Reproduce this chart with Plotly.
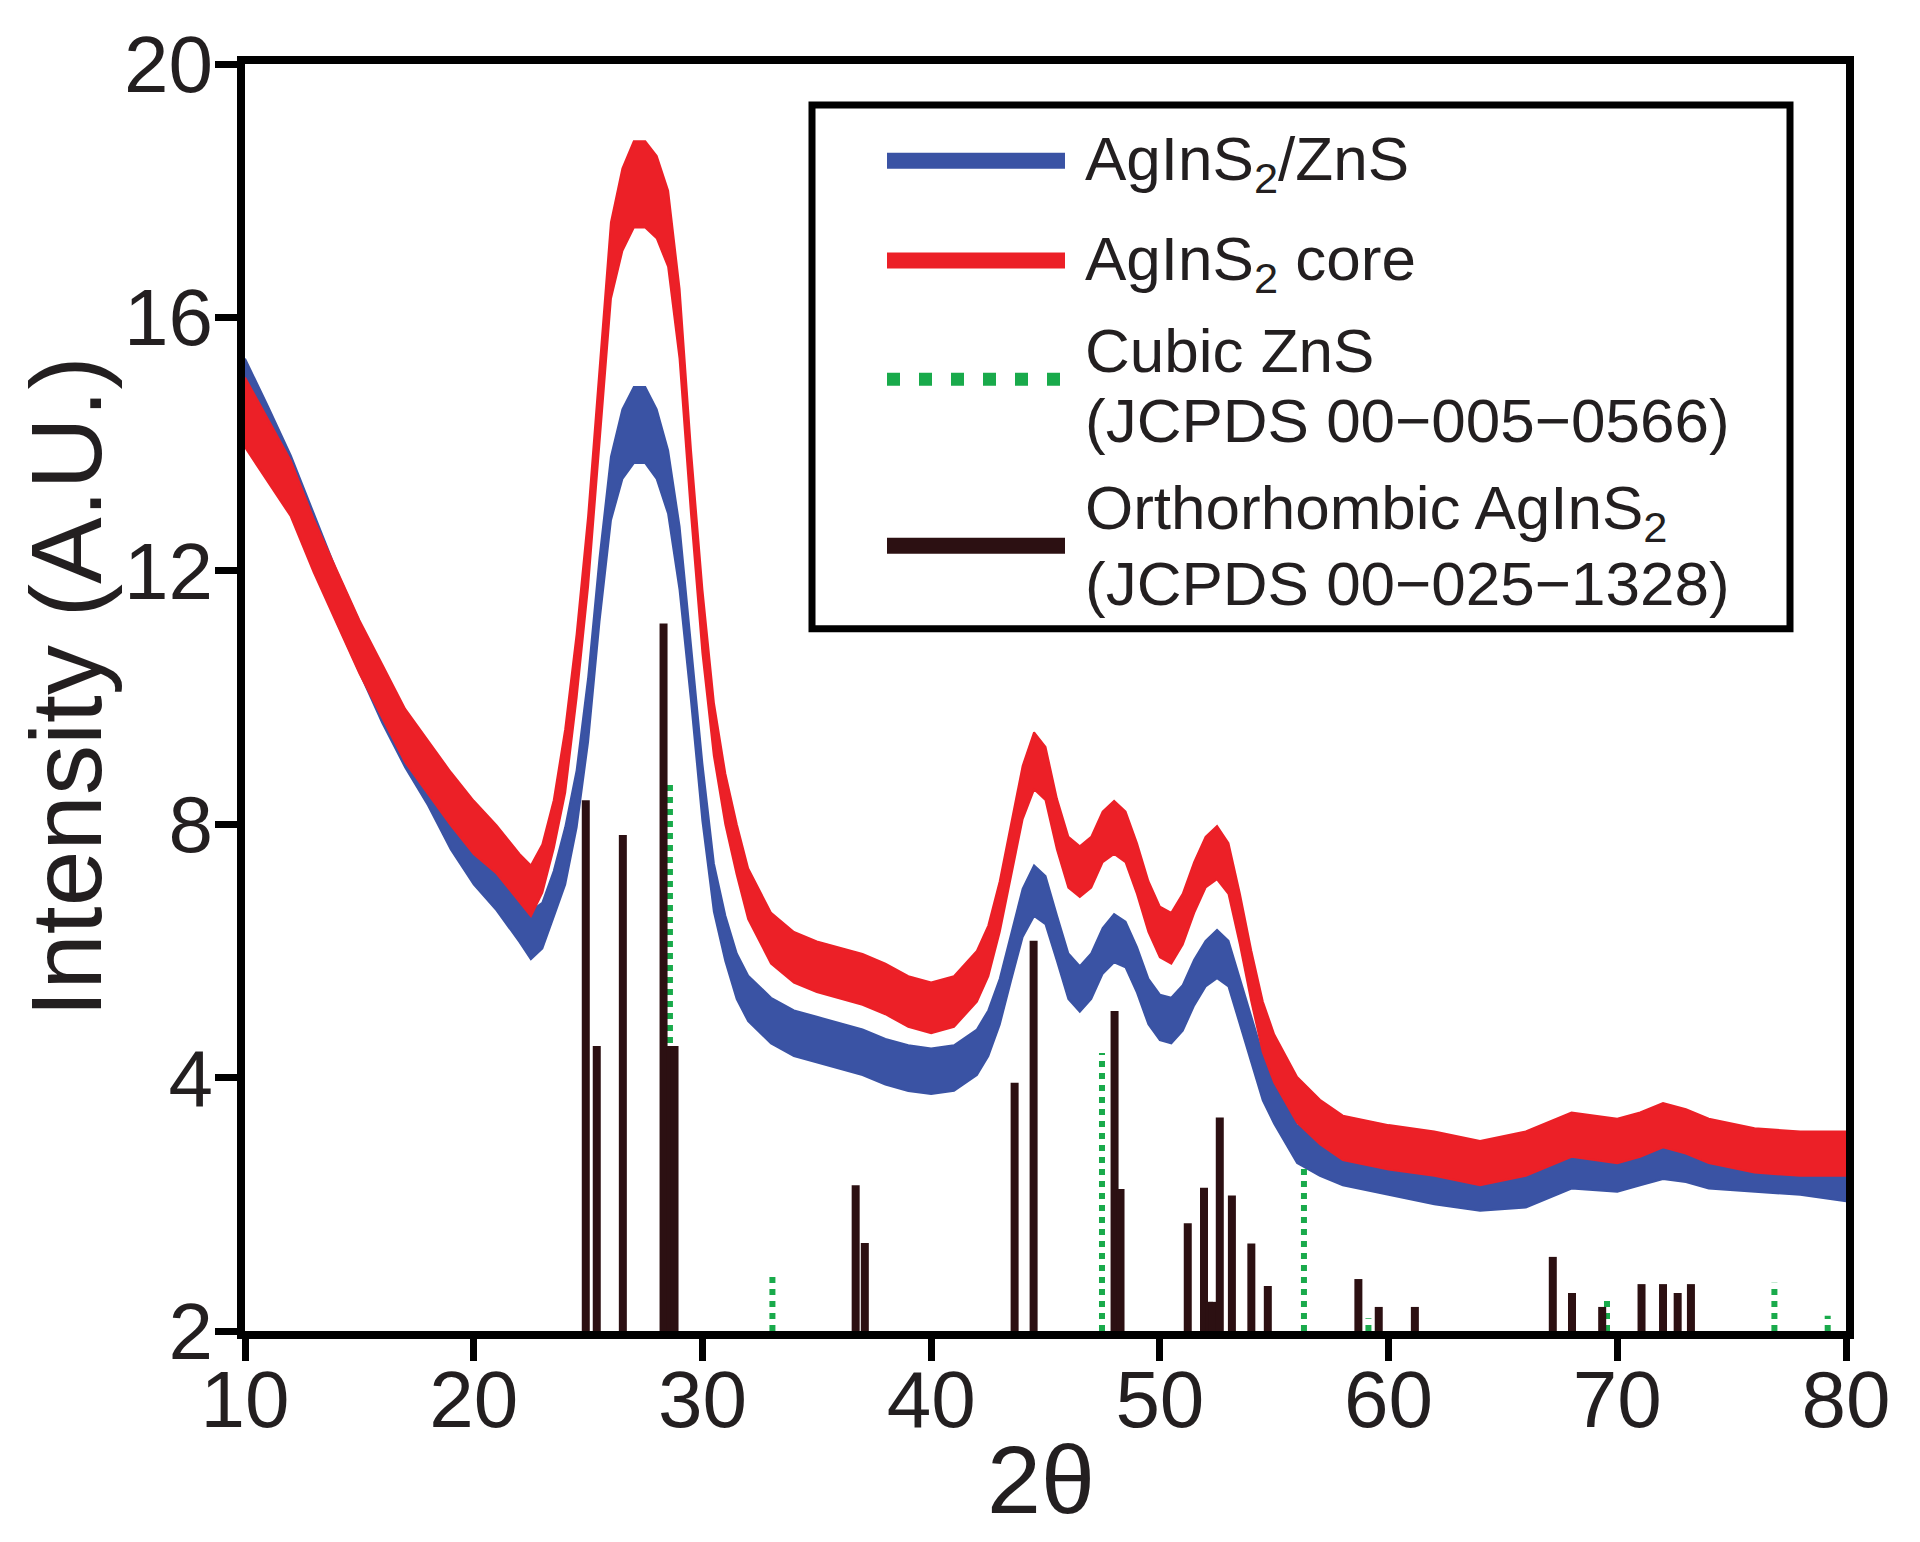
import plotly.graph_objects as go

# ---------------- data ----------------
two_theta = [10, 11, 12, 13, 14, 15, 16, 17, 18, 19, 20, 21, 22, 22.5, 23, 23.5,
             24, 24.5, 25, 25.5, 26, 26.5, 27, 27.5, 28, 28.5, 29, 29.5, 30, 30.5,
             31, 31.5, 32, 33, 34, 35, 36, 37, 38, 39, 40, 41, 42, 42.5, 43, 43.5,
             44, 44.5, 45, 45.5, 46, 46.5, 47, 47.5, 48, 48.5, 49, 49.5, 50, 50.5,
             51, 51.5, 52, 52.5, 53, 53.5, 54, 54.5, 55, 56, 57, 58, 60, 62, 64,
             66, 68, 70, 71, 72, 73, 74, 76, 78, 80]

shell_int = [14.8, 14.1, 13.4, 12.5, 11.6, 10.8, 10.0, 9.3, 8.7, 8.0, 7.45, 7.0, 6.5, 6.25,
             6.4, 6.9, 7.5, 8.4, 9.8, 11.7, 13.3, 14.0, 14.3, 14.3, 14.0, 13.4, 12.2,
             10.4, 8.5, 7.0, 6.2, 5.6, 5.25, 4.9, 4.7, 4.6, 4.5, 4.4, 4.25, 4.15, 4.1,
             4.15, 4.4, 4.7, 5.2, 5.9, 6.6, 6.95, 6.8, 6.2, 5.6, 5.4, 5.6, 6.0, 6.2,
             6.1, 5.7, 5.2, 4.95, 4.9, 5.1, 5.5, 5.8, 5.95, 5.8, 5.2, 4.6, 4.0, 3.6,
             2.95, 2.75, 2.6, 2.45, 2.3, 2.2, 2.25, 2.55, 2.5, 2.6, 2.7, 2.65, 2.55,
             2.5, 2.45, 2.35]

shell_noise = [0.55, 0.5, 0.42, 0.4, 0.4, 0.4, 0.4, 0.4, 0.4, 0.4, 0.4, 0.36, 0.36, 0.38,
               0.36, 0.36, 0.45, 0.45, 0.5, 0.5, 0.5, 0.55, 0.6, 0.6, 0.55, 0.5, 0.5,
               0.45, 0.45, 0.38, 0.36, 0.36, 0.36, 0.36, 0.36, 0.36, 0.36, 0.36, 0.36,
               0.36, 0.36, 0.36, 0.36, 0.36, 0.36, 0.36, 0.38, 0.4, 0.38, 0.36, 0.36,
               0.36, 0.36, 0.36, 0.38, 0.36, 0.36, 0.36, 0.36, 0.36, 0.36, 0.36, 0.36,
               0.38, 0.36, 0.36, 0.36, 0.36, 0.33, 0.3, 0.3, 0.3, 0.3, 0.3, 0.3, 0.3,
               0.3, 0.3, 0.3, 0.3, 0.3, 0.3, 0.3, 0.3, 0.3]

core_int = [14.5, 13.9, 13.3, 12.4, 11.6, 10.8, 10.1, 9.4, 8.9, 8.4, 7.95, 7.6, 7.15, 6.95,
            7.3, 8.0, 9.0, 10.5, 12.3, 14.6, 16.9, 17.7, 18.1, 18.1, 17.9, 17.4, 15.9,
            13.4, 11.2, 9.5, 8.4, 7.6, 6.9, 6.2, 5.9, 5.75, 5.65, 5.55, 5.4, 5.2, 5.1,
            5.2, 5.6, 6.0, 6.7, 7.6, 8.5, 9.0, 8.8, 8.0, 7.4, 7.25, 7.4, 7.8, 7.95,
            7.8, 7.3, 6.7, 6.3, 6.2, 6.5, 7.0, 7.4, 7.55, 7.3, 6.5, 5.6, 4.8, 4.3,
            3.65, 3.3, 3.05, 2.9, 2.8, 2.65, 2.8, 3.1, 3.0, 3.1, 3.25, 3.15, 3.0,
            2.85, 2.8, 2.8]

core_noise = [0.55, 0.5, 0.44, 0.42, 0.42, 0.42, 0.42, 0.42, 0.42, 0.42, 0.42, 0.38, 0.38,
              0.4, 0.38, 0.38, 0.5, 0.5, 0.55, 0.6, 0.6, 0.65, 0.68, 0.68, 0.65, 0.6,
              0.55, 0.5, 0.5, 0.42, 0.4, 0.4, 0.4, 0.4, 0.4, 0.4, 0.4, 0.4, 0.4, 0.4,
              0.4, 0.4, 0.4, 0.4, 0.4, 0.42, 0.42, 0.45, 0.42, 0.4, 0.4, 0.4, 0.4, 0.4,
              0.42, 0.4, 0.4, 0.4, 0.4, 0.4, 0.4, 0.4, 0.4, 0.42, 0.4, 0.4, 0.4, 0.4,
              0.38, 0.36, 0.35, 0.35, 0.35, 0.35, 0.35, 0.35, 0.35, 0.35, 0.35, 0.35,
              0.35, 0.35, 0.35, 0.35, 0.35]

zns_pos = [28.58, 33.06, 47.47, 56.3, 59.12, 69.55, 76.87, 79.2]
zns_int = [8.69, 0.89, 4.39, 2.58, 0.2, 0.52, 0.76, 0.24]

agins_pos = [24.9, 25.38, 26.52, 28.3, 28.62, 28.78, 36.7, 37.1, 43.65, 44.48, 48.02,
             48.28, 51.22, 51.93, 52.15, 52.3, 52.62, 53.15, 54.0, 54.72, 58.68, 59.57,
             61.15, 67.18, 68.02, 69.34, 71.06, 72.0, 72.64, 73.22]
agins_int = [8.38, 4.5, 7.83, 11.17, 4.5, 4.5, 2.3, 1.39, 3.92, 6.16, 5.05, 2.24, 1.7,
             2.26, 0.46, 0.46, 3.37, 2.14, 1.38, 0.71, 0.82, 0.38, 0.38, 1.17, 0.6,
             0.38, 0.74, 0.74, 0.6, 0.74]

x_ticks = [10, 20, 30, 40, 50, 60, 70, 80]
y_tickvals = [0, 4, 8, 12, 16, 20]
y_ticktext = ["2", "4", "8", "12", "16", "20"]

legend_labels = [
    ["AgInS<sub>2</sub>/ZnS"],
    ["AgInS<sub>2</sub> core"],
    ["Cubic ZnS", "(JCPDS 00\u2212005\u22120566)"],
    ["Orthorhombic AgInS<sub>2</sub>", "(JCPDS 00\u2212025\u22121328)"],
]

# ---------------- styling ----------------
BLUE = "#3a53a4"
RED = "#ec2027"
GREEN = "#19aa4b"
DARK = "#2c1012"
TXT = "#231f20"
FONT = "Liberation Sans, Arial, Helvetica, sans-serif"

OFF = 8                      # page body margin
W, H = 1920 - 2 * OFF, 1542 - 2 * OFF
# plot area in screen pixels
L, R, T, B = 245, 1846, 61, 1331


def px(x):
    return (x - L) / (R - L)


def py(y):
    return (B - y) / (B - T)


fig = go.Figure()

# noisy diffraction patterns drawn as bands between the envelopes
for cen, noise, col in [(shell_int, shell_noise, BLUE), (core_int, core_noise, RED)]:
    upper = [c + n for c, n in zip(cen, noise)]
    lower = [c - n for c, n in zip(cen, noise)]
    fig.add_trace(go.Scatter(
        x=two_theta + two_theta[::-1], y=upper + lower[::-1],
        mode="lines", fill="toself", fillcolor=col,
        line=dict(color=col, width=2), hoverinfo="skip", showlegend=False))

# reference sticks
gx, gy = [], []
for p, h in zip(zns_pos, zns_int):
    gx += [p, p, None]
    gy += [0, h, None]
fig.add_trace(go.Scatter(x=gx, y=gy, mode="lines",
                         line=dict(color=GREEN, width=6, dash="dot"),
                         hoverinfo="skip", showlegend=False))

dx, dy = [], []
for p, h in zip(agins_pos, agins_int):
    dx += [p, p, None]
    dy += [0, h, None]
fig.add_trace(go.Scatter(x=dx, y=dy, mode="lines",
                         line=dict(color=DARK, width=8),
                         hoverinfo="skip", showlegend=False))

# ---------------- manual legend ----------------
shapes = [dict(type="rect", xref="paper", yref="paper",
               x0=px(812), x1=px(1790), y0=py(627), y1=py(102),
               line=dict(color="black", width=7), fillcolor="rgba(0,0,0,0)", layer="above")]
sample_y = [158, 258, 377, 544]
sample_style = [(BLUE, 16, "solid"), (RED, 16, "solid"), (GREEN, 13, "13px,19px"),
                (DARK, 16, "solid")]
for yy, (col, wd, ds) in zip(sample_y, sample_style):
    shapes.append(dict(type="line", xref="paper", yref="paper",
                       x0=px(887), x1=px(1065), y0=py(yy), y1=py(yy),
                       line=dict(color=col, width=wd, dash=ds), layer="above"))

annotations = []
text_y = [[160], [260], [348, 418], [510, 582]]
for labels, ys in zip(legend_labels, text_y):
    for lab, yy in zip(labels, ys):
        annotations.append(dict(xref="paper", yref="paper", x=px(1083), y=py(yy),
                                xanchor="left", yanchor="middle", text=lab,
                                showarrow=False, font=dict(family=FONT, size=62, color=TXT)))

annotations.append(dict(xref="paper", yref="paper", x=px(66), y=py(686),
                        xanchor="center", yanchor="middle", text="Intensity (A.U.)",
                        textangle=-90, showarrow=False,
                        font=dict(family=FONT, size=100, color=TXT)))
annotations.append(dict(xref="paper", yref="paper", x=px(1041), y=py(1480),
                        xanchor="center", yanchor="middle", text="2\u03b8",
                        showarrow=False, font=dict(family=FONT, size=97, color=TXT)))

axis_common = dict(showline=True, mirror=True, linecolor="black", linewidth=8,
                   ticks="outside", ticklen=22, tickwidth=7, tickcolor="black",
                   showgrid=False, zeroline=False,
                   tickfont=dict(family=FONT, size=80, color=TXT))

fig.update_layout(
    width=W, height=H,
    margin=dict(l=L - OFF, r=W - (R - OFF), t=T - OFF, b=H - (B - OFF), pad=0),
    paper_bgcolor="white", plot_bgcolor="white",
    showlegend=False,
    xaxis=dict(range=[10, 80], tickvals=x_ticks, ticklabelstandoff=-30, **axis_common),
    yaxis=dict(range=[0, 20], tickvals=y_tickvals, ticktext=y_ticktext,
               ticklabelstandoff=-14, **axis_common),
    shapes=shapes, annotations=annotations,
)

fig.write_html("out.html")
